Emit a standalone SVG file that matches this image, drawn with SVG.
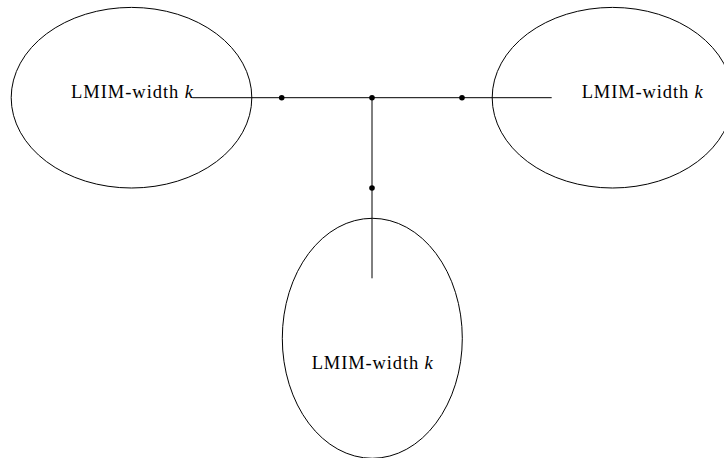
<svg xmlns="http://www.w3.org/2000/svg" width="724" height="458" viewBox="0 0 724 458">
  <style>
    .blob { fill: none; stroke: #000; stroke-width: 1; }
    .edge { fill: none; stroke: #000; stroke-width: 1; }
    .vertex { fill: #000; }
    .lbl { font-family: "Liberation Serif", "DejaVu Serif", serif; font-size: 18.5px; fill: #000; }
    .var { font-style: italic; }
  </style>
  <rect width="724" height="458" fill="#fff"/>

  <g id="node-left">
    <ellipse class="blob" cx="131.5" cy="97.7" rx="120.3" ry="90.3"/>
    <text class="lbl" x="71" y="98.3" textLength="122" lengthAdjust="spacing">LMIM-width <tspan class="var">k</tspan></text>
  </g>

  <g id="node-right">
    <ellipse class="blob" cx="612.5" cy="97.7" rx="120.3" ry="90.3"/>
    <text class="lbl" x="581.7" y="98.3" textLength="121" lengthAdjust="spacing">LMIM-width <tspan class="var">k</tspan></text>
  </g>

  <g id="node-bottom">
    <ellipse class="blob" cx="372.3" cy="338.3" rx="90" ry="120"/>
    <text class="lbl" x="311.7" y="369.3" textLength="121" lengthAdjust="spacing">LMIM-width <tspan class="var">k</tspan></text>
  </g>

  <g id="connectors">
    <line class="edge" x1="192.3" y1="97.7" x2="551.7" y2="97.7"/>
    <line class="edge" x1="372" y1="97.7" x2="372" y2="278.3"/>
    <circle class="vertex" cx="281.7" cy="97.7" r="2.8"/>
    <circle class="vertex" cx="372" cy="97.7" r="2.8"/>
    <circle class="vertex" cx="462" cy="97.7" r="2.8"/>
    <circle class="vertex" cx="372" cy="188" r="2.8"/>
  </g>
</svg>
